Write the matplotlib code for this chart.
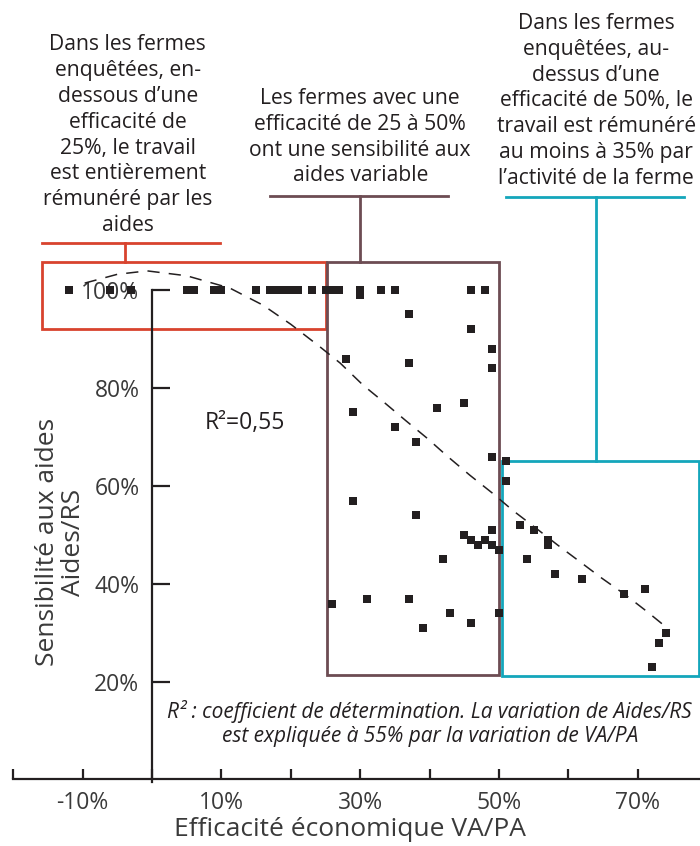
import matplotlib.pyplot as plt

plt.rcParams["font.family"] = ["Open Sans", "DejaVu Sans"]

# Efficacité économique VA/PA (%) et sensibilité aux aides Aides/RS (%)
va_pa = [
    -12, -6, -3, 5, 6, 9, 10, 15, 17, 18, 19, 20, 21, 23, 25, 26, 27, 30, 33, 35, 46, 48,
    30, 37, 46, 49, 28, 37, 49, 45, 41, 29, 35, 38, 49, 51, 51, 29, 38,
    49, 45, 46, 47, 48, 49, 50, 42, 26, 31, 37, 43, 39, 46, 50,
    53, 55, 57, 57, 54, 58, 62, 68, 71, 74, 73, 72,
]
aides_rs = [
    100, 100, 100, 100, 100, 100, 100, 100, 100, 100, 100, 100, 100, 100, 100, 100, 100, 100, 100, 100, 100, 100,
    99, 95, 92, 88, 86, 85, 84, 77, 76, 75, 72, 69, 66, 65, 61, 57, 54,
    51, 50, 49, 48, 49, 48, 47, 45, 36, 37, 37, 34, 31, 32, 34,
    52, 51, 49, 48, 45, 42, 41, 38, 39, 30, 28, 23,
]

# courbe de tendance (polynomiale)
trend_x = [-9.7, -5.0, -0.7, 5.0, 11.2, 16.0, 20.0, 24.2, 27.1, 30.4, 33.5, 36.6, 39.6,
           42.7, 45.8, 49.0, 52.0, 55.5, 58.4, 61.7, 64.8, 68.2, 71.3, 74.6]
trend_y = [101.4, 103.2, 103.9, 102.9, 100.4, 96.9, 93.0, 88.4, 85.1, 80.6, 77.0, 73.3, 69.8,
           65.9, 62.2, 58.6, 55.0, 51.2, 48.0, 44.5, 41.2, 37.8, 34.4, 30.6]

x_ticks = [-20, -10, 0, 10, 20, 30, 40, 50, 60, 70]
x_tick_labels = ["", "-10%", "", "10%", "", "30%", "", "50%", "", "70%"]
y_ticks = [20, 40, 60, 80, 100]
y_tick_labels = ["20%", "40%", "60%", "80%", "100%"]

seuil_bas = 25
seuil_haut = 50
r2_label = "R²=0,55"

ink = "#231f20"
label_grey = "#3a3a3a"
red = "#d8432e"
brown = "#6d4c53"
cyan = "#14a6bb"

fig = plt.figure(figsize=(7, 8.46), dpi=100)
ax = fig.add_axes([0, 0, 1, 1])
ax.set_xlim(-21.9, 78.96)
ax.set_ylim(-13.47, 159.18)
ax.patch.set_visible(False)

# axes en croix : origine à (0 %, 0 %)
for side in ["top", "right"]:
    ax.spines[side].set_visible(False)
ax.spines["left"].set_position(("data", 0))
ax.spines["left"].set_bounds(-0.5, 100)
ax.spines["bottom"].set_position(("data", 0.3))
ax.spines["bottom"].set_bounds(-20, 79)
for side in ["left", "bottom"]:
    ax.spines[side].set_linewidth(1.6)
    ax.spines[side].set_color(ink)

ax.set_xticks(x_ticks)
ax.set_xticklabels(x_tick_labels)
ax.set_yticks(y_ticks)
ax.set_yticklabels(y_tick_labels)
ax.tick_params(axis="x", direction="in", length=7, width=1.6, pad=9,
               labelsize=16.5, colors=ink, labelcolor=label_grey)
ax.tick_params(axis="y", direction="in", length=13, width=1.6, pad=9,
               labelsize=16.5, colors=ink, labelcolor=label_grey)

ax.set_xlabel("Efficacité économique VA/PA", fontsize=19, color=label_grey)
ax.xaxis.set_label_coords(0.5, 0.019)
ax.xaxis.label.set_va("center")
ax.set_ylabel("Sensibilité aux aides\nAides/RS", fontsize=19, color=label_grey,
              linespacing=1.05)
ax.yaxis.set_label_coords(0.086, 0.359)
ax.yaxis.label.set_va("center")

# nuage de points
ax.scatter(va_pa, aides_rs, marker="s", s=40, color=ink, linewidths=0,
           zorder=4, clip_on=False)

ax.plot(trend_x, trend_y, linestyle=(0, (8, 6)), color=ink, linewidth=1.1,
        zorder=3, clip_on=False)

ax.text(7.6, 72.9, r2_label, fontsize=16.5, color=ink, va="center", ha="left")

# cadres des trois groupes de fermes
box_kw = dict(fill=False, linewidth=2, clip_on=False, zorder=2)
ax.add_patch(plt.Rectangle((-15.9, 92.0), seuil_bas + 15.9, 13.7, edgecolor=red, **box_kw))
ax.add_patch(plt.Rectangle((seuil_bas + 0.2, 21.4), seuil_haut - seuil_bas - 0.2, 84.3,
                           edgecolor=brown, **box_kw))
ax.add_patch(plt.Rectangle((seuil_haut + 0.5, 21.3), 28.3, 43.8, edgecolor=cyan, **box_kw))

# accolades reliant les cadres aux commentaires
ax.plot([-15.9, 9.8], [109.6, 109.6], color=red, linewidth=2, clip_on=False)
ax.plot([-3.9, -3.9], [109.6, 105.7], color=red, linewidth=2, clip_on=False)
ax.plot([17.0, 42.7], [119.2, 119.2], color=brown, linewidth=2, clip_on=False)
ax.plot([30.0, 30.0], [119.2, 105.7], color=brown, linewidth=2, clip_on=False)
ax.plot([51.0, 76.7], [119.0, 119.0], color=cyan, linewidth=2, clip_on=False)
ax.plot([64.0, 64.0], [119.0, 65.1], color=cyan, linewidth=2, clip_on=False)

note_kw = dict(fontsize=15.2, color=ink, ha="center", va="center",
               multialignment="center", linespacing=1.3)
ax.text(-3.5, 131.6,
        "Dans les fermes\nenquêtées, en-\ndessous d’une\nefficacité de\n"
        "25%, le travail\nest entièrement\nrémunéré par les\naides", **note_kw)
ax.text(30.0, 131.2,
        "Les fermes avec une\nefficacité de 25 à 50%\nont une sensibilité aux\n"
        "aides variable", **note_kw)
ax.text(64.0, 138.6,
        "Dans les fermes\nenquêtées, au-\ndessus d’une\nefficacité de 50%, le\n"
        "travail est rémunéré\nau moins à 35% par\nl’activité de la ferme", **note_kw)

ax.text(0.614, 0.145,
        "R² : coefficient de détermination. La variation de Aides/RS\n"
        "est expliquée à 55% par la variation de VA/PA",
        transform=ax.transAxes, fontsize=15, style="italic", color=ink,
        ha="center", va="center", multialignment="center", linespacing=1.15)

fig.savefig("out.png", dpi=100)
